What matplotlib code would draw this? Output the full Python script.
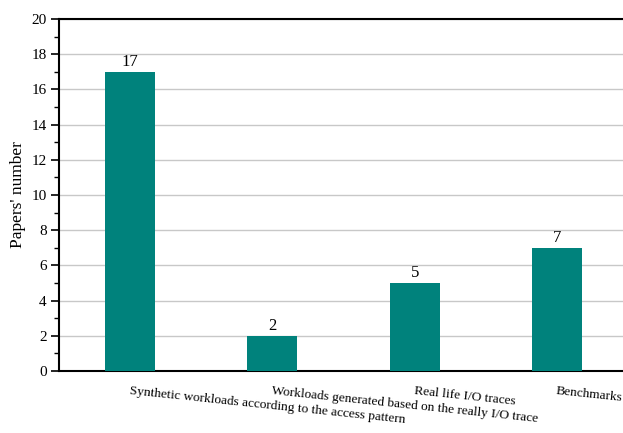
import matplotlib
matplotlib.use('Agg')
import matplotlib.pyplot as plt
import numpy as np

categories = ['Synthetic workloads according to the access pattern',
              'Workloads generated based on the really I/O trace',
              'Real life I/O traces',
              'Benchmarks']
papers = [17, 2, 5, 7]

plt.rcParams['font.family'] = ['Liberation Serif', 'DejaVu Serif']

fig = plt.figure(figsize=(6.23, 4.33), dpi=100)
ax = fig.add_axes([59/623, 62/433, 569/623, 352/433])

x = np.arange(len(categories))
bars = ax.bar(x, papers, width=0.35, color='#00827C', zorder=3)

for xi, v in zip(x, papers):
    ax.text(xi, v + 0.12, str(v), ha='center', va='bottom', fontsize=12)

ax.set_xlim(-0.5, 3.5)
ax.set_ylim(0, 20)
ax.set_yticks(np.arange(0, 21, 2))
ax.set_yticks(np.arange(0, 21, 1), minor=True)
ax.tick_params(axis='y', which='major', direction='out', length=6, width=1.2, labelsize=11, pad=3)
ax.tick_params(axis='y', which='minor', direction='out', length=3.5, width=1)
ax.grid(axis='y', color='#c8c8c8', linewidth=1, zorder=0)
ax.set_axisbelow(True)

ax.set_xticks(x)
ax.set_xticklabels(categories, rotation=-6, ha='left', rotation_mode='anchor', fontsize=9.6)
ax.tick_params(axis='x', length=0, pad=10)

ax.set_ylabel("Papers' number", fontsize=12.5, labelpad=4)

for side in ['left', 'bottom', 'top']:
    ax.spines[side].set_linewidth(1.5)
ax.spines['right'].set_visible(False)

fig.savefig('out.png', dpi=100)
